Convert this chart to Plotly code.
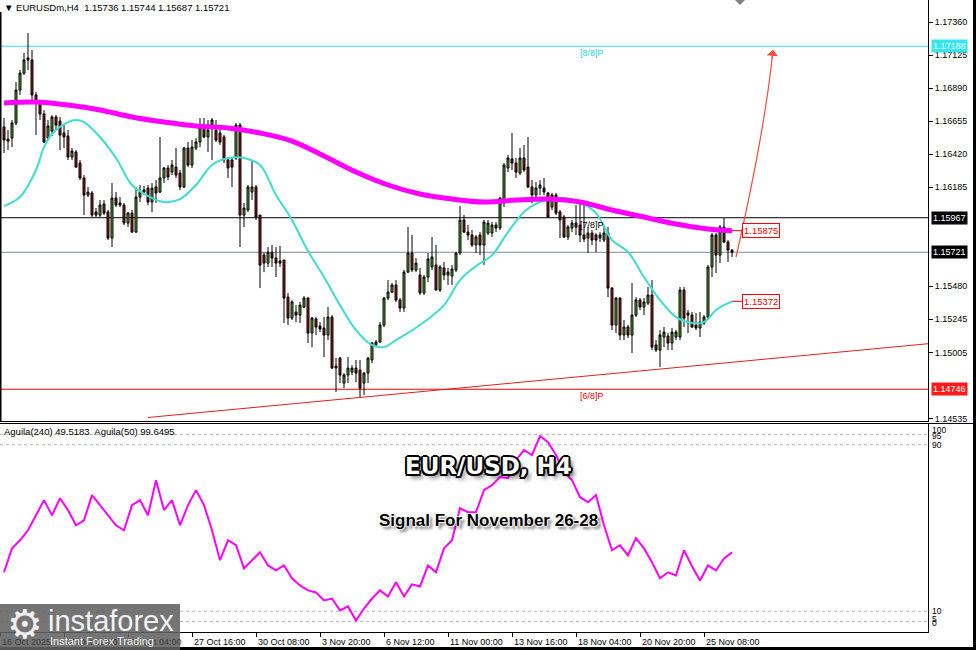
import numpy as np
import plotly.graph_objects as go

# ---------------- data (prices in 1e-5 units) ----------------
bar_open = [116613,116513,116534,116641,116876,116997,117104,117090,116841,116776,
116705,116534,116584,116684,116655,116570,116549,116399,116435,116356,
116250,116129,116143,116008,115986,116065,116008,115822,116107,116072,
116057,115929,116000,115865,116114,116150,116178,116079,116186,116150,
116250,116321,116292,116328,116285,116186,116463,116342,116463,116506,
116606,116542,116627,116591,116570,116542,116378,116378,116392,116627,
115986,116022,116150,116186,115986,115701,115644,115721,115680,115659,
115666,115402,115253,115296,115274,115331,115395,115146,115246,115196,
115182,115132,115260,114911,114968,114790,114847,114868,114897,114882,
114790,114861,114954,115061,115082,115203,115395,115438,115488,115381,
115324,115580,115716,115595,115559,115431,115545,115616,115630,115452,
115609,115559,115552,115595,115716,115951,115865,115844,115773,115844,
115773,115858,115858,115915,115894,116072,116321,116385,116356,116285,
116392,116328,116186,116129,116178,116178,116143,116043,116129,116008,
115972,115830,115894,115929,115915,115844,115822,115858,115844,115822,
115808,115858,115466,115203,115395,115132,115189,115132,115274,115381,
115331,115360,115417,115061,115025,115118,115125,115075,115118,115118,
115452,115288,115274,115203,115182,115217,115260,115616,115844,115701,
115901,115794,115736]
bar_high = [116677,116591,116663,116933,117019,117140,117282,117161,116862,116791,
116734,116663,116698,116698,116684,116627,116591,116463,116449,116378,
116271,116186,116157,116036,116093,116093,116022,116214,116150,116114,
116072,116008,116022,116186,116200,116193,116200,116214,116235,116542,
116328,116342,116378,116463,116307,116470,116506,116520,116534,116677,
116677,116663,116677,116663,116606,116556,116392,116392,116641,116641,
116072,116200,116378,116200,115986,115721,115758,115773,115758,115766,
115666,115431,115381,115345,115367,115409,115402,115260,115260,115224,
115260,115331,115274,114968,114975,114861,114975,114918,114954,114954,
114868,114975,115082,115096,115224,115402,115523,115502,115523,115395,
115595,115901,115844,115680,115609,115559,115716,115830,115773,115630,
115652,115609,115630,115721,116050,115986,115915,115879,115844,115865,
115951,115951,115936,115936,116114,116356,116413,116570,116392,116463,
116485,116542,116235,116221,116235,116250,116150,116143,116143,116022,
115986,115915,115951,116057,116072,116072,115901,115879,115858,115865,
115901,115901,115474,115402,115402,115239,115203,115502,115402,115395,
115395,115474,115523,115096,115167,115189,115146,115182,115167,115474,
115474,115310,115296,115288,115296,115274,115630,115858,115858,115915,
115965,115808,115744]
bar_low = [116428,116449,116470,116627,116841,116983,117019,116805,116556,116663,
116499,116520,116549,116591,116449,116463,116378,116378,116321,116235,
115986,116114,115972,115972,115972,115986,115808,115758,116043,116043,
115915,115901,115858,115858,116079,116129,116057,116008,116072,116143,
116214,116235,116271,116250,116164,116178,116328,116321,116449,116470,
116534,116435,116378,116506,116485,116356,116250,116186,116378,115758,
115901,116008,116093,115951,115466,115580,115616,115616,115545,115616,
115217,115203,115239,115224,115217,115324,115075,115046,115132,115153,
114975,115096,114890,114726,114790,114754,114790,114847,114797,114683,
114705,114790,114932,115046,115075,115189,115381,115431,115367,115296,
115296,115573,115580,115580,115417,115417,115509,115595,115452,115438,
115523,115488,115488,115580,115701,115858,115808,115758,115716,115701,
115630,115844,115830,115865,115879,116043,116292,116307,116250,116271,
116292,116178,116072,116107,116129,116129,115965,116022,115986,115822,
115822,115808,115865,115844,115794,115794,115716,115773,115721,115794,
115794,115402,115167,115146,115096,115096,115110,115004,115260,115310,
115274,115345,115025,115011,114904,115046,115025,115025,115096,115096,
115189,115146,115182,115167,115118,115203,115239,115545,115573,115644,
115787,115652,115687]
bar_close = [116520,116527,116641,116876,116997,117090,117090,116841,116784,116705,
116506,116620,116684,116627,116556,116542,116399,116442,116328,116250,
116129,116150,115986,115986,116057,116000,115822,116107,116057,116057,
115929,116000,115865,116114,116150,116164,116079,116178,116143,116250,
116321,116257,116342,116271,116186,116463,116342,116470,116506,116606,
116542,116591,116663,116520,116506,116378,116321,116328,116627,115986,
116036,116186,116186,115972,115630,115644,115721,115680,115644,115644,
115395,115253,115367,115274,115345,115395,115146,115253,115189,115175,
115132,115260,114897,114897,114847,114847,114897,114897,114861,114754,
114861,114968,115075,115082,115203,115395,115438,115488,115381,115324,
115580,115716,115595,115644,115431,115545,115673,115687,115452,115616,
115559,115580,115602,115716,115951,115865,115844,115773,115830,115773,
115936,115929,115915,115894,116107,116342,116392,116356,116292,116392,
116307,116186,116129,116178,116200,116150,115972,116129,116000,115951,
115830,115901,115929,115901,115844,115815,115858,115808,115808,115844,
115858,115466,115203,115395,115132,115189,115132,115274,115381,115331,
115367,115417,115046,115025,115132,115153,115075,115153,115153,115452,
115253,115274,115189,115182,115224,115260,115616,115844,115701,115901,
115794,115737,115721]

# moving averages (at selected bars)
ma_slow_idx = [0,8,16,24,32,40,48,56,64,72,80,88,96,104,112,120,128,136,144,152,160,168,176,182]
ma_slow_val = [1.16784,1.16791,1.16769,1.16734,1.16684,1.16648,1.16620,1.16606,1.16570,1.16513,
               1.16406,1.16292,1.16200,1.16136,1.16100,1.16079,1.16093,1.16100,1.16079,1.16022,
               1.15972,1.15922,1.15887,1.15875]
ma_fast_idx = [0,4,8,10,12,16,18,20,24,28,32,36,40,44,48,52,56,60,64,68,72,76,80,84,88,92,95,98,
               104,110,114,118,122,126,130,134,140,144,148,152,156,160,164,168,172,175,178,180,182]
ma_fast_val = [1.16050,1.16114,1.16307,1.16470,1.16563,1.16648,1.16663,1.16648,1.16542,1.16392,
               1.16200,1.16122,1.16079,1.16100,1.16200,1.16342,1.16392,1.16392,1.16342,1.16129,
               1.15951,1.15730,1.15545,1.15345,1.15167,1.15061,1.15046,1.15096,1.15203,1.15345,
               1.15523,1.15623,1.15701,1.15865,1.16008,1.16079,1.16107,1.16079,1.16000,1.15808,
               1.15723,1.15545,1.15381,1.15260,1.15217,1.15224,1.15310,1.15345,1.15372]

# oscillator (every second bar)
osc_vals = [28.7,40.2,44.1,48.9,56.1,63.4,56.1,64.3,58.6,51.3,
            53.7,65.8,61.0,56.1,51.3,48.9,61.0,63.4,56.1,73.0,
            58.6,63.4,51.3,61.0,68.2,61.0,48.9,34.5,44.1,41.7,
            30.6,34.5,38.3,32.0,29.6,32.0,25.8,22.4,20.0,19.0,
            15.2,16.1,10.4,12.3,5.5,11.3,16.1,20.0,17.1,23.9,
            17.1,22.9,21.9,32.0,28.7,40.2,44.1,59.5,57.6,57.6,
            68.2,70.6,74.5,74.0,82.7,87.5,85.1,94.2,91.3,85.1,
            76.9,73.0,64.8,62.4,65.8,51.3,39.3,41.7,36.9,45.1,
            40.2,33.5,25.8,28.7,27.2,39.3,31.6,24.8,32.0,29.6,
            35.4,38.3]
osc_idx = list(range(0, 183, 2))
osc_levels = [95, 90, 10, 5]

time_tick_idx = [-1, 15, 31, 47, 63, 79, 95, 111, 127, 143, 159, 175]
time_tick_labels = ["16 Oct 2025", "20 Oct 12:00", "23 Oct 04:00", "27 Oct 16:00", "30 Oct 08:00",
                    "3 Nov 20:00", "6 Nov 12:00", "11 Nov 00:00", "13 Nov 16:00", "18 Nov 04:00",
                    "20 Nov 20:00", "25 Nov 08:00"]
price_ticks = [1.17360, 1.17125, 1.16890, 1.16655, 1.16420, 1.16185, 1.15480, 1.15245, 1.15005, 1.14535]

level_8_8 = 1.17188
level_7_8 = 1.15967
bid_price = 1.15721
level_6_8 = 1.14746
trend_idx = [36, 231]
trend_val = [1.14545, 1.15070]
arrow_idx = [183, 190.25, 192.25]
arrow_val = [1.15687, 1.16591, 1.17161]

# ---------------- figure ----------------
n = len(bar_close)
bars = list(range(n))
o = np.array(bar_open) / 1e5
h = np.array(bar_high) / 1e5
l = np.array(bar_low) / 1e5
c = np.array(bar_close) / 1e5

W, H = 976, 650
ML, MR, MT, MB = 0, 48, 0, 18
PW, PH = W - ML - MR, H - MT - MB


def px(xp):
    return (xp - ML) / PW


def py(yp):
    return 1 - (yp - MT) / PH


FONT = "Liberation Sans"
fig = go.Figure()

fig.add_trace(go.Scatter(x=trend_idx, y=trend_val, mode="lines",
                         line=dict(color="#e02020", width=1), xaxis="x", yaxis="y", hoverinfo="skip"))
fig.add_trace(go.Candlestick(x=bars, open=o, high=h, low=l, close=c,
                             increasing=dict(line=dict(color="black", width=1), fillcolor="#4fae2c"),
                             decreasing=dict(line=dict(color="black", width=1), fillcolor="#a81414"),
                             whiskerwidth=0, xaxis="x", yaxis="y"))
fig.add_trace(go.Scatter(x=ma_fast_idx, y=ma_fast_val, mode="lines",
                         line=dict(color="#40dcd0", width=2, shape="spline"), xaxis="x", yaxis="y"))
fig.add_trace(go.Scatter(x=ma_slow_idx, y=ma_slow_val, mode="lines",
                         line=dict(color="#ff00ff", width=5, shape="spline"), xaxis="x", yaxis="y"))
fig.add_trace(go.Scatter(x=osc_idx, y=osc_vals, mode="lines",
                         line=dict(color="#ff00ff", width=2), xaxis="x2", yaxis="y2"))

shapes = []
# horizontal levels
for val, col in [(level_8_8, "#30e0e8"), (level_7_8, "black"), (bid_price, "#7a8a9a"), (level_6_8, "#ff0000")]:
    shapes.append(dict(type="line", xref="paper", x0=0, x1=1, yref="y", y0=val, y1=val,
                       line=dict(color=col, width=1), layer="below"))
for lv in osc_levels:
    shapes.append(dict(type="line", xref="paper", x0=0, x1=1, yref="y2", y0=lv, y1=lv,
                       line=dict(color="#b4b4b4", width=1, dash="3px,3px"), layer="below"))
# curved arrow
shapes.append(dict(type="path", xref="x", yref="y",
                   path=f"M {arrow_idx[0]},{arrow_val[0]} Q {arrow_idx[1]},{arrow_val[1]} {arrow_idx[2]},{arrow_val[2]}",
                   line=dict(color="#f04a3a", width=1.2)))
# connectors to MA value boxes
for val in (ma_slow_val[-1], ma_fast_val[-1]):
    shapes.append(dict(type="line", xref="x", yref="y", x0=bars[-1], x1=bars[-1] + 2.5, y0=val, y1=val,
                       line=dict(color="#ff0000", width=1)))
# frame strips
shapes.append(dict(type="rect", xref="paper", yref="paper", x0=px(973), x1=px(976), y0=py(650), y1=py(0),
                   fillcolor="black", line=dict(width=0)))
shapes.append(dict(type="rect", xref="paper", yref="paper", x0=px(0), x1=px(976), y0=py(650), y1=py(647),
                   fillcolor="black", line=dict(width=0)))
shapes.append(dict(type="line", xref="paper", yref="paper", x0=px(0.5), x1=px(0.5), y0=py(12), y1=py(421),
                   line=dict(color="black", width=2)))
shapes.append(dict(type="line", xref="paper", yref="paper", x0=px(0), x1=px(973), y0=py(423.5), y1=py(423.5),
                   line=dict(color="black", width=1)))
# shift marker
shapes.append(dict(type="path", xref="paper", yref="paper",
                   path=f"M {px(735)},{py(0)} L {px(745)},{py(0)} L {px(740)},{py(5)} Z",
                   fillcolor="#808080", line=dict(width=0)))
# logo box
shapes.append(dict(type="rect", xref="paper", yref="paper", x0=px(0), x1=px(180), y0=py(650), y1=py(604),
                   fillcolor="rgba(98,98,98,0.88)", line=dict(width=0), layer="above"))

ann = []
ann.append(dict(xref="paper", yref="paper", x=px(2), y=py(8), xanchor="left", yanchor="middle",
                text="▼ EURUSDm,H4  1.15736 1.15744 1.15687 1.15721", showarrow=False,
                font=dict(family=FONT, size=9.5, color="black")))
ann.append(dict(xref="paper", yref="paper", x=px(2), y=py(431), xanchor="left", yanchor="middle",
                text="Aguila(240) 49.5183  Aguila(50) 99.6495", showarrow=False,
                font=dict(family=FONT, size=9.5, color="black")))
# right axis highlighted values
for val, bg in [(level_8_8, "#33e6f0"), (level_7_8, "black"), (bid_price, "black"), (level_6_8, "#ff1a1a")]:
    ann.append(dict(xref="paper", yref="y", x=1, y=val, xanchor="left", yanchor="middle", xshift=3,
                    text=f"{val:.5f}", showarrow=False, bgcolor=bg, borderpad=1,
                    font=dict(family=FONT, size=9, color="white")))
# indicator scale
for txt, yp in [("100", 430), ("95", 436), ("90", 445), ("10", 611), ("5", 619), ("0", 623)]:
    ann.append(dict(xref="paper", yref="paper", x=1, y=py(yp), xanchor="left", yanchor="middle", xshift=2,
                    text=txt, showarrow=False, font=dict(family=FONT, size=8.5, color="black")))
# time labels
for i, (ti, tl) in enumerate(zip(time_tick_idx, time_tick_labels)):
    ann.append(dict(xref="x2", yref="paper", x=ti, y=0, xanchor="left", yanchor="top", yshift=-3, xshift=0,
                    text=tl, showarrow=False,
                    font=dict(family=FONT, size=9, color="#3c3c3c" if i < 3 else "black")))
# murrey labels
for val, txt, col in [(level_8_8, "[8/8]P", "#30d0d8"), (level_7_8, "[7/8]P", "black"), (level_6_8, "[6/8]P", "#ff0000")]:
    ann.append(dict(xref="x", yref="y", x=143.5, y=val, xanchor="left", yanchor="middle", yshift=-7,
                    text=txt, showarrow=False, font=dict(family=FONT, size=9, color=col)))
# MA value boxes
for val in (ma_slow_val[-1], ma_fast_val[-1]):
    ann.append(dict(xref="x", yref="y", x=bars[-1] + 2.5, y=val, xanchor="left", yanchor="middle",
                    text=f"{val:.5f}", showarrow=False, bgcolor="white", bordercolor="#ff0000",
                    borderwidth=1, borderpad=1, font=dict(family=FONT, size=9.5, color="#ff0000")))
# arrow head
ann.append(dict(xref="x", yref="y", axref="x", ayref="y", x=arrow_idx[2], y=arrow_val[2],
                ax=arrow_idx[2] - 0.25, ay=arrow_val[2] - 0.0007, text="", showarrow=True,
                arrowhead=1, arrowsize=1.6, arrowwidth=1.2, arrowcolor="#f04a3a", standoff=0))
# titles
ann.append(dict(xref="paper", yref="paper", x=px(488), y=py(466), xanchor="center", yanchor="middle",
                text="EUR/USD, H4", showarrow=False,
                font=dict(family="DejaVu Sans", size=23, color="white", weight="bold",
                          shadow="2px 0 0 #000, -2px 0 0 #000, 0 2px 0 #000, 0 -2px 0 #000, "
                                 "1.5px 1.5px 0 #000, -1.5px -1.5px 0 #000, 1.5px -1.5px 0 #000, "
                                 "-1.5px 1.5px 0 #000, 4px 4px 4px rgba(0,0,0,0.55)")))
ann.append(dict(xref="paper", yref="paper", x=px(488), y=py(520), xanchor="center", yanchor="middle",
                text="Signal For November 26-28", showarrow=False,
                font=dict(family=FONT, size=17, color="black", weight="bold",
                          shadow="1px 0 0 #fff, -1px 0 0 #fff, 0 1px 0 #fff, 0 -1px 0 #fff, "
                                 "3px 3px 3px rgba(0,0,0,0.55)")))
# logo text
ann.append(dict(xref="paper", yref="paper", x=px(25), y=py(624), xanchor="center", yanchor="middle",
                text="⚙", showarrow=False, font=dict(family="DejaVu Sans", size=40, color="#f0f0f0")))
ann.append(dict(xref="paper", yref="paper", x=px(46), y=py(621), xanchor="left", yanchor="middle",
                text="instaforex", showarrow=False, font=dict(family=FONT, size=29, color="#f2f2f2")))
ann.append(dict(xref="paper", yref="paper", x=px(48), y=py(641), xanchor="left", yanchor="middle",
                text="Instant Forex Trading", showarrow=False, font=dict(family=FONT, size=11, color="#f2f2f2")))

split_main = py(421)
split_ind = py(424)

fig.update_layout(
    width=W, height=H, margin=dict(l=ML, r=MR, t=MT, b=MB, autoexpand=False),
    paper_bgcolor="white", plot_bgcolor="white", showlegend=False,
    xaxis=dict(domain=[0, 1], anchor="y", range=[-1, 231], showgrid=False, zeroline=False,
               showticklabels=False, showline=True, linecolor="black", linewidth=1,
               rangeslider=dict(visible=False), matches="x2"),
    yaxis=dict(domain=[split_main, 1], anchor="x", range=[1.14520, 1.17517], side="right",
               tickvals=price_ticks, ticktext=[f"{v:.5f}" for v in price_ticks],
               ticks="outside", ticklen=4, tickcolor="black", showgrid=False, zeroline=False,
               showline=True, linecolor="black", linewidth=1, automargin=False,
               tickfont=dict(family=FONT, size=9, color="black")),
    xaxis2=dict(domain=[0, 1], anchor="y2", range=[-1, 231], showgrid=False, zeroline=False,
                tickvals=time_tick_idx, ticks="outside", ticklen=4, tickcolor="black",
                showticklabels=False, showline=True, mirror=True, linecolor="black", linewidth=1),
    yaxis2=dict(domain=[0, split_ind], anchor="x2", range=[0, 100], side="right", showgrid=False,
                zeroline=False, showticklabels=False, showline=True, linecolor="black", linewidth=1,
                automargin=False),
    shapes=shapes, annotations=ann,
)

fig.write_html("out.html", config={"displayModeBar": False},
               post_script="document.body.style.margin='0';document.body.style.overflow='hidden';")
